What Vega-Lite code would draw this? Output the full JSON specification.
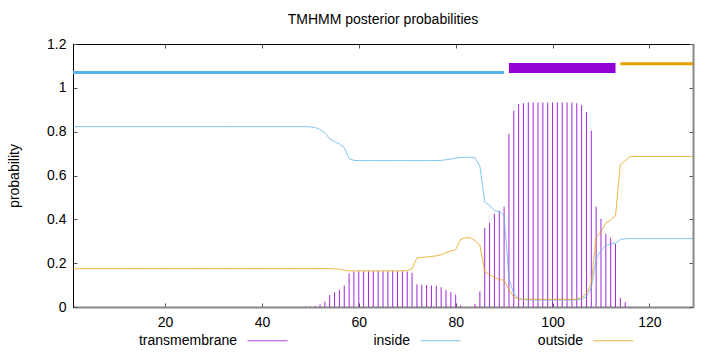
{
  "$schema": "https://vega.github.io/schema/vega-lite/v6.json",
  "width": 620,
  "height": 263,
  "autosize": {"type": "none"},
  "padding": {"left": 73, "top": 44, "right": 27, "bottom": 45},
  "background": "white",
  "title": {"text": "TMHMM posterior probabilities", "fontSize": 14, "font": "Liberation Sans", "fontWeight": "normal", "color": "black", "offset": 10},
  "config": {
    "view": {"stroke": "black", "strokeWidth": 1},
    "axis": {"labelFont": "Liberation Sans", "labelFontSize": 14, "labelColor": "black", "titleFont": "Liberation Sans", "titleFontSize": 14, "titleFontWeight": "normal", "titleColor": "black", "grid": false, "tickColor": "#555", "tickSize": -4, "domainColor": "black"},
    "legend": {"labelFont": "Liberation Sans", "labelFontSize": 14, "labelColor": "black"}
  },
  "datasets": {
    "probs": [
      {"pos":1,"inside":0.823,"outside":0.175,"transmembrane":0},
      {"pos":2,"inside":0.823,"outside":0.175,"transmembrane":0},
      {"pos":3,"inside":0.823,"outside":0.175,"transmembrane":0},
      {"pos":4,"inside":0.823,"outside":0.175,"transmembrane":0},
      {"pos":5,"inside":0.823,"outside":0.175,"transmembrane":0},
      {"pos":6,"inside":0.823,"outside":0.175,"transmembrane":0},
      {"pos":7,"inside":0.823,"outside":0.175,"transmembrane":0},
      {"pos":8,"inside":0.823,"outside":0.175,"transmembrane":0},
      {"pos":9,"inside":0.823,"outside":0.175,"transmembrane":0},
      {"pos":10,"inside":0.823,"outside":0.175,"transmembrane":0},
      {"pos":11,"inside":0.823,"outside":0.175,"transmembrane":0},
      {"pos":12,"inside":0.823,"outside":0.175,"transmembrane":0},
      {"pos":13,"inside":0.823,"outside":0.175,"transmembrane":0},
      {"pos":14,"inside":0.823,"outside":0.175,"transmembrane":0},
      {"pos":15,"inside":0.823,"outside":0.175,"transmembrane":0},
      {"pos":16,"inside":0.823,"outside":0.175,"transmembrane":0},
      {"pos":17,"inside":0.823,"outside":0.175,"transmembrane":0},
      {"pos":18,"inside":0.823,"outside":0.175,"transmembrane":0},
      {"pos":19,"inside":0.823,"outside":0.175,"transmembrane":0},
      {"pos":20,"inside":0.823,"outside":0.175,"transmembrane":0},
      {"pos":21,"inside":0.823,"outside":0.175,"transmembrane":0},
      {"pos":22,"inside":0.823,"outside":0.175,"transmembrane":0},
      {"pos":23,"inside":0.823,"outside":0.175,"transmembrane":0},
      {"pos":24,"inside":0.823,"outside":0.175,"transmembrane":0},
      {"pos":25,"inside":0.823,"outside":0.175,"transmembrane":0},
      {"pos":26,"inside":0.823,"outside":0.175,"transmembrane":0},
      {"pos":27,"inside":0.823,"outside":0.175,"transmembrane":0},
      {"pos":28,"inside":0.823,"outside":0.175,"transmembrane":0},
      {"pos":29,"inside":0.823,"outside":0.175,"transmembrane":0},
      {"pos":30,"inside":0.823,"outside":0.175,"transmembrane":0},
      {"pos":31,"inside":0.823,"outside":0.175,"transmembrane":0},
      {"pos":32,"inside":0.823,"outside":0.175,"transmembrane":0},
      {"pos":33,"inside":0.823,"outside":0.175,"transmembrane":0},
      {"pos":34,"inside":0.823,"outside":0.175,"transmembrane":0},
      {"pos":35,"inside":0.823,"outside":0.175,"transmembrane":0},
      {"pos":36,"inside":0.823,"outside":0.175,"transmembrane":0},
      {"pos":37,"inside":0.823,"outside":0.175,"transmembrane":0},
      {"pos":38,"inside":0.823,"outside":0.175,"transmembrane":0},
      {"pos":39,"inside":0.823,"outside":0.175,"transmembrane":0},
      {"pos":40,"inside":0.823,"outside":0.175,"transmembrane":0},
      {"pos":41,"inside":0.823,"outside":0.175,"transmembrane":0},
      {"pos":42,"inside":0.823,"outside":0.175,"transmembrane":0},
      {"pos":43,"inside":0.823,"outside":0.175,"transmembrane":0},
      {"pos":44,"inside":0.823,"outside":0.175,"transmembrane":0},
      {"pos":45,"inside":0.823,"outside":0.175,"transmembrane":0},
      {"pos":46,"inside":0.823,"outside":0.175,"transmembrane":0},
      {"pos":47,"inside":0.823,"outside":0.175,"transmembrane":0},
      {"pos":48,"inside":0.823,"outside":0.175,"transmembrane":0},
      {"pos":49,"inside":0.823,"outside":0.175,"transmembrane":0.002},
      {"pos":50,"inside":0.822,"outside":0.175,"transmembrane":0.003},
      {"pos":51,"inside":0.819,"outside":0.175,"transmembrane":0.005},
      {"pos":52,"inside":0.81,"outside":0.175,"transmembrane":0.012},
      {"pos":53,"inside":0.795,"outside":0.176,"transmembrane":0.024},
      {"pos":54,"inside":0.767,"outside":0.175,"transmembrane":0.055},
      {"pos":55,"inside":0.754,"outside":0.174,"transmembrane":0.067},
      {"pos":56,"inside":0.744,"outside":0.172,"transmembrane":0.079},
      {"pos":57,"inside":0.728,"outside":0.168,"transmembrane":0.098},
      {"pos":58,"inside":0.677,"outside":0.165,"transmembrane":0.154},
      {"pos":59,"inside":0.669,"outside":0.165,"transmembrane":0.162},
      {"pos":60,"inside":0.668,"outside":0.165,"transmembrane":0.163},
      {"pos":61,"inside":0.668,"outside":0.165,"transmembrane":0.163},
      {"pos":62,"inside":0.668,"outside":0.165,"transmembrane":0.163},
      {"pos":63,"inside":0.668,"outside":0.165,"transmembrane":0.163},
      {"pos":64,"inside":0.668,"outside":0.165,"transmembrane":0.163},
      {"pos":65,"inside":0.668,"outside":0.165,"transmembrane":0.163},
      {"pos":66,"inside":0.668,"outside":0.165,"transmembrane":0.163},
      {"pos":67,"inside":0.668,"outside":0.165,"transmembrane":0.163},
      {"pos":68,"inside":0.668,"outside":0.165,"transmembrane":0.163},
      {"pos":69,"inside":0.668,"outside":0.165,"transmembrane":0.163},
      {"pos":70,"inside":0.668,"outside":0.166,"transmembrane":0.162},
      {"pos":71,"inside":0.668,"outside":0.175,"transmembrane":0.156},
      {"pos":72,"inside":0.668,"outside":0.224,"transmembrane":0.103},
      {"pos":73,"inside":0.668,"outside":0.226,"transmembrane":0.101},
      {"pos":74,"inside":0.668,"outside":0.228,"transmembrane":0.1},
      {"pos":75,"inside":0.668,"outside":0.231,"transmembrane":0.098},
      {"pos":76,"inside":0.668,"outside":0.233,"transmembrane":0.097},
      {"pos":77,"inside":0.669,"outside":0.238,"transmembrane":0.09},
      {"pos":78,"inside":0.672,"outside":0.248,"transmembrane":0.078},
      {"pos":79,"inside":0.675,"outside":0.255,"transmembrane":0.068},
      {"pos":80,"inside":0.679,"outside":0.262,"transmembrane":0.056},
      {"pos":81,"inside":0.682,"outside":0.308,"transmembrane":0.007},
      {"pos":82,"inside":0.683,"outside":0.316,"transmembrane":0},
      {"pos":83,"inside":0.683,"outside":0.316,"transmembrane":0},
      {"pos":84,"inside":0.681,"outside":0.303,"transmembrane":0.014},
      {"pos":85,"inside":0.643,"outside":0.282,"transmembrane":0.071},
      {"pos":86,"inside":0.478,"outside":0.16,"transmembrane":0.36},
      {"pos":87,"inside":0.465,"outside":0.148,"transmembrane":0.384},
      {"pos":88,"inside":0.44,"outside":0.135,"transmembrane":0.425},
      {"pos":89,"inside":0.435,"outside":0.125,"transmembrane":0.439},
      {"pos":90,"inside":0.418,"outside":0.122,"transmembrane":0.458},
      {"pos":91,"inside":0.13,"outside":0.08,"transmembrane":0.79},
      {"pos":92,"inside":0.06,"outside":0.045,"transmembrane":0.896},
      {"pos":93,"inside":0.037,"outside":0.037,"transmembrane":0.927},
      {"pos":94,"inside":0.034,"outside":0.036,"transmembrane":0.93},
      {"pos":95,"inside":0.032,"outside":0.035,"transmembrane":0.933},
      {"pos":96,"inside":0.032,"outside":0.035,"transmembrane":0.933},
      {"pos":97,"inside":0.032,"outside":0.035,"transmembrane":0.933},
      {"pos":98,"inside":0.032,"outside":0.035,"transmembrane":0.933},
      {"pos":99,"inside":0.032,"outside":0.035,"transmembrane":0.933},
      {"pos":100,"inside":0.032,"outside":0.035,"transmembrane":0.933},
      {"pos":101,"inside":0.032,"outside":0.035,"transmembrane":0.933},
      {"pos":102,"inside":0.032,"outside":0.035,"transmembrane":0.933},
      {"pos":103,"inside":0.032,"outside":0.035,"transmembrane":0.933},
      {"pos":104,"inside":0.032,"outside":0.035,"transmembrane":0.933},
      {"pos":105,"inside":0.033,"outside":0.036,"transmembrane":0.93},
      {"pos":106,"inside":0.036,"outside":0.043,"transmembrane":0.921},
      {"pos":107,"inside":0.048,"outside":0.062,"transmembrane":0.89},
      {"pos":108,"inside":0.087,"outside":0.106,"transmembrane":0.805},
      {"pos":109,"inside":0.222,"outside":0.318,"transmembrane":0.458},
      {"pos":110,"inside":0.258,"outside":0.343,"transmembrane":0.402},
      {"pos":111,"inside":0.282,"outside":0.383,"transmembrane":0.334},
      {"pos":112,"inside":0.287,"outside":0.398,"transmembrane":0.316},
      {"pos":113,"inside":0.292,"outside":0.417,"transmembrane":0.288},
      {"pos":114,"inside":0.308,"outside":0.65,"transmembrane":0.042},
      {"pos":115,"inside":0.311,"outside":0.667,"transmembrane":0.022},
      {"pos":116,"inside":0.312,"outside":0.686,"transmembrane":0.001},
      {"pos":117,"inside":0.312,"outside":0.687,"transmembrane":0},
      {"pos":118,"inside":0.312,"outside":0.687,"transmembrane":0},
      {"pos":119,"inside":0.312,"outside":0.687,"transmembrane":0},
      {"pos":120,"inside":0.312,"outside":0.687,"transmembrane":0},
      {"pos":121,"inside":0.312,"outside":0.687,"transmembrane":0},
      {"pos":122,"inside":0.312,"outside":0.687,"transmembrane":0},
      {"pos":123,"inside":0.312,"outside":0.687,"transmembrane":0},
      {"pos":124,"inside":0.312,"outside":0.687,"transmembrane":0},
      {"pos":125,"inside":0.312,"outside":0.687,"transmembrane":0},
      {"pos":126,"inside":0.312,"outside":0.687,"transmembrane":0},
      {"pos":127,"inside":0.312,"outside":0.687,"transmembrane":0},
      {"pos":128,"inside":0.312,"outside":0.687,"transmembrane":0},
      {"pos":129,"inside":0.312,"outside":0.687,"transmembrane":0}
    ],
    "segments": [
      {"type":"inside","start":1,"end":90,"level":1.07},
      {"type":"transmembrane","start":91,"end":113,"level":1.09},
      {"type":"outside","start":114,"end":129,"level":1.11}
    ]
  },
  "layer": [
    {
      "data": {"name": "probs"},
      "mark": {"type": "rule", "strokeWidth": 1, "opacity": 0.85},
      "encoding": {
        "x": {"field": "pos", "type": "quantitative", "scale": {"domain": [1, 129], "nice": false, "zero": false},
              "axis": {"orient": "bottom", "title": null, "values": [20, 40, 60, 80, 100, 120], "labelPadding": 12, "domainColor": "#888", "domainWidth": 2}},
        "y": {"field": "transmembrane", "type": "quantitative", "scale": {"domain": [0, 1.2], "nice": false},
              "axis": {"orient": "left", "title": "probability", "values": [0, 0.2, 0.4, 0.6, 0.8, 1, 1.2], "format": "~g", "labelPadding": 11, "titlePadding": 25}},
        "y2": {"datum": 0},
        "color": {"datum": "transmembrane", "type": "nominal",
                  "scale": {"domain": ["transmembrane", "inside", "outside"], "range": ["#9400d3", "#56b4e9", "#e69f00"]},
                  "legend": {"title": null, "orient": "none", "legendX": 174, "legendY": 276, "direction": "horizontal", "columns": 3, "gridAlign": "all", "columnPadding": 74, "symbolType": "stroke", "symbolSize": 1600, "symbolStrokeWidth": 1, "symbolOpacity": 0.6, "labelAlign": "right", "labelOffset": -51}}
      }
    },
    {
      "data": {"name": "probs"},
      "transform": [{"fold": ["inside", "outside"], "as": ["series", "prob"]}],
      "mark": {"type": "line", "strokeWidth": 1, "opacity": 0.75},
      "encoding": {
        "x": {"field": "pos", "type": "quantitative", "axis": null},
        "y": {"field": "prob", "type": "quantitative", "axis": null},
        "color": {"field": "series", "type": "nominal", "legend": {"title": null}}
      }
    },
    {
      "data": {"name": "segments"},
      "transform": [{"filter": "datum.type !== 'transmembrane'"}],
      "mark": {"type": "rule", "strokeWidth": 3},
      "encoding": {
        "x": {"field": "start", "type": "quantitative", "axis": {"orient": "top", "title": null, "labels": false, "values": [20, 40, 60, 80, 100, 120]}},
        "x2": {"field": "end"},
        "y": {"field": "level", "type": "quantitative", "axis": {"orient": "right", "title": null, "labels": false, "values": [0, 0.2, 0.4, 0.6, 0.8, 1, 1.2], "domainColor": "#888", "domainWidth": 2}},
        "color": {"field": "type", "type": "nominal", "legend": {"title": null}}
      }
    },
    {
      "data": {"name": "segments"},
      "transform": [{"filter": "datum.type === 'transmembrane'"}],
      "mark": {"type": "rule", "strokeWidth": 10},
      "encoding": {
        "x": {"field": "start", "type": "quantitative", "axis": null},
        "x2": {"field": "end"},
        "y": {"field": "level", "type": "quantitative", "axis": null},
        "color": {"field": "type", "type": "nominal", "legend": {"title": null}}
      }
    }
  ]
}
